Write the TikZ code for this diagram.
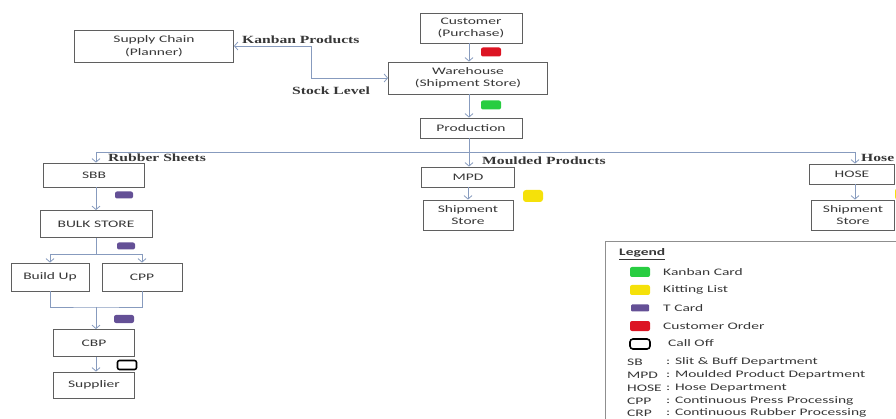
\documentclass[tikz,border=0pt]{standalone}
\usepackage{fontspec}
\setmainfont{Liberation Serif}[FakeStretch=1.42]
\newfontfamily\boxfont{Carlito}[FakeStretch=1.55]
\usetikzlibrary{arrows.meta}

\definecolor{boxgray}{RGB}{95,95,95}
\definecolor{textgray}{RGB}{55,55,55}
\definecolor{linkblue}{RGB}{135,155,190}
\definecolor{kgreen}{RGB}{40,205,65}
\definecolor{kyellow}{RGB}{245,225,10}
\definecolor{tpurple}{RGB}{100,80,150}
\definecolor{cred}{RGB}{220,20,35}

\begin{document}
\begin{tikzpicture}[x=1pt, y=-1pt,
	box/.style={draw=boxgray, line width=0.8pt, fill=white, align=center, inner sep=0pt,
		text=textgray, font=\boxfont\fontsize{10}{12.5}\selectfont},
	link/.style={draw=linkblue, line width=0.8pt},
	flow/.style={link, -{Straight Barb[length=3.5pt,width=8pt]}},
	twoway/.style={link, {Straight Barb[length=3.5pt,width=8pt]}-{Straight Barb[length=3.5pt,width=8pt]}},
	lbl/.style={anchor=west, inner sep=0pt, text=textgray, font=\bfseries\fontsize{11}{13}\selectfont},
	card/.style={rounded corners=2pt, minimum width=20pt, minimum height=9pt, inner sep=0pt},
	legtext/.style={anchor=west, inner sep=0pt, text=textgray, font=\boxfont\fontsize{10}{12}\selectfont}]
	\useasboundingbox (0,0) rectangle (896,419);
	\clip (0,0) rectangle (896,419);
	
	% top of the chain
	\node[box, minimum width=102pt, minimum height=30pt] (cust) at (471,28) {Customer\\(Purchase)};
	\node[box, minimum width=159pt, minimum height=32pt] (scp) at (154,46) {Supply Chain\\(Planner)};
	\node[box, minimum width=159pt, minimum height=32pt] (ware) at (468,78) {Warehouse\\(Shipment Store)};
	\node[box, minimum width=102pt, minimum height=20pt] (prod) at (471,128) {Production};
	\coordinate (mainx) at (469,0);
	\coordinate (stk) at (311,0);
	
	\draw[flow] (cust.south -| mainx) -- (ware.north -| mainx);
	\draw[flow] (ware.south -| mainx) -- (prod.north -| mainx);
	\draw[twoway] (scp.east) -- (scp.east -| stk) -- (ware.west -| stk) -- (ware.west);
	\node[lbl] (kanbanlbl) at (242,40) {Kanban Products};
	\node[lbl] (stocklbl) at (292,91) {Stock Level};
	\node[card, fill=cred] (order) at (491,52) {};
	\node[card, fill=kgreen] (kanban) at (491,105) {};
	
	% rubber sheets
	\node[box, minimum width=101pt, minimum height=24pt] (sbb) at (94,175) {SBB};
	\node[box, minimum width=112pt, minimum height=27pt] (bulk) at (96,224) {BULK STORE};
	\node[box, minimum width=78pt, minimum height=28pt] (build) at (50,277) {Build Up};
	\node[box, minimum width=80pt, minimum height=28pt] (cpp) at (142,277) {CPP};
	\node[box, minimum width=81pt, minimum height=27pt] (cbp) at (94,343) {CBP};
	\node[box, minimum width=81pt, minimum height=26pt] (supp) at (94,385) {Supplier};
	\coordinate (busL) at (96,152);
	\coordinate (busR) at (855,152);
	\coordinate (split) at (96,254);
	\coordinate (merge) at (96,307);
	
	\draw[link] (busL) -- (busR);
	\draw[flow] (busL) -- (sbb.north -| busL);
	\node[lbl] (rubberlbl) at (108,158) {Rubber Sheets};
	\draw[flow] (sbb.south -| busL) -- (bulk.north -| busL);
	\draw[link] (bulk.south -| split) -- (split);
	\draw[link] (split -| build) -- (split -| cpp);
	\draw[flow] (split -| build) -- (build.north);
	\draw[flow] (split -| cpp) -- (cpp.north);
	\draw[link] (build.south) |- (merge) -| (cpp.south);
	\draw[flow] (merge) -- (cbp.north -| merge);
	\draw[flow] (cbp.south -| merge) -- (supp.north -| merge);
	\node[card, fill=tpurple, minimum width=18pt, minimum height=7pt] (tcard1) at (124,195) {};
	\node[card, fill=tpurple, minimum width=18pt, minimum height=7pt] (tcard2) at (126,246) {};
	\node[card, fill=tpurple, minimum width=20pt, minimum height=8pt] (tcard3) at (124,319) {};
	\node[card, draw=black, line width=1.6pt, fill=white, minimum width=19pt] (calloff) at (127,365) {};
	
	% moulded products
	\node[box, minimum width=93pt, minimum height=20pt] (mpd) at (468,177) {MPD};
	\node[box, minimum width=90pt, minimum height=30pt] (mship) at (468,215) {Shipment\\Store};
	\draw[flow] (prod.south -| mainx) -- (mpd.north -| mainx);
	\node[lbl] (mouldlbl) at (482,161) {Moulded Products};
	\draw[flow] (mpd) -- (mship);
	\node[card, fill=kyellow, minimum height=12pt, rounded corners=3pt] (kit1) at (533,196) {};
	
	% hose
	\node[box, minimum width=85pt, minimum height=20pt] (hose) at (852,174) {HOSE};
	\node[box, minimum width=83pt, minimum height=30pt] (hship) at (853,215) {Shipment\\Store};
	\draw[flow] (busR) -- (hose.north -| busR);
	\node[lbl] (hoselbl) at (861,158) {Hose Products};
	\draw[flow] (hose.south -| busR) -- (hship.north -| busR);
	\node[card, fill=kyellow, minimum height=12pt, rounded corners=3pt] (kit2) at (905,194) {};
	
	% legend
	\node[draw=boxgray!70, line width=1pt, anchor=north west, minimum width=300pt, minimum height=190pt] (legend) at (605,241) {};
	\node[legtext, font=\boxfont\bfseries\fontsize{10}{12}\selectfont] (legendttl) at (619,254) {\underline{Legend}};
	\foreach \y/\col/\txt [count=\i] in {272/kgreen/Kanban Card, 290/kyellow/Kitting List, 326/cred/Customer Order}
	{
		\node[card, fill=\col, minimum height=10pt] (key\i) at (640,\y) {};
		\node[legtext] (keytxt\i) at (663,\y) {\txt};
	}
	\node[card, fill=tpurple, minimum width=18pt, minimum height=7pt, rounded corners=1pt] (keyt) at (640,308) {};
	\node[legtext] (keyttxt) at (663,308) {T Card};
	\node[card, draw=black, line width=1.6pt, fill=white, minimum height=10pt, rounded corners=3pt] (keycall) at (640,344) {};
	\node[legtext] (keycalltxt) at (668,343) {Call Off};
	\foreach \y/\ab/\txt [count=\i] in {362/SB/Slit \& Buff Department, 375/MPD/Moulded Product Department,
		388/HOSE/Hose Department, 401/CPP/Continuous Press Processing, 413/CRP/Continuous Rubber Processing}
	{
		\node[legtext] (abbr\i) at (627,\y) {\ab};
		\node[legtext] (abbrtxt\i) at (666,\y) {: \txt};
	}
\end{tikzpicture}
\end{document}
